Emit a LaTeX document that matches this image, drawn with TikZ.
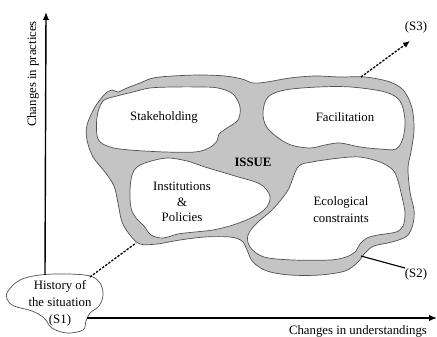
\documentclass[tikz,border=0pt]{standalone}
\usepackage{fontspec}
\setmainfont{Liberation Serif}
\usetikzlibrary{arrows.meta}
\definecolor{blobgray}{RGB}{196,196,196}
\definecolor{edgegray}{RGB}{80,80,80}
\begin{document}
\begin{tikzpicture}[x=1pt,y=-1pt,
  lbl/.style={font=\fontsize{12.8}{16}\selectfont, align=center, inner sep=0pt},
  blob/.style={fill=blobgray, draw=edgegray, line width=0.7pt},
  hole/.style={fill=white, draw=edgegray, line width=0.7pt},
  axis/.style={line width=1.4pt, -{Latex[length=8pt,width=6.5pt]}},
  dotline/.style={line width=1.3pt, dash pattern=on 2.4pt off 1.4pt},
  s2line/.style={line width=1.1pt}]
\useasboundingbox (0,0) rectangle (437,337);
% outer gray blob
\path[blob] plot[smooth cycle, tension=0.55] coordinates {
 (87,125) (95,107) (105,94) (112,90) (118,92) (127,88) (140,83) (153,78) (173,76) (200,75)
 (225,76) (242,79) (253,83) (267,82) (290,78) (315,76) (340,77) (365,77) (390,82) (404,91)
 (412,108) (414,130) (411,152) (408,168) (410,192) (414,210) (413,224) (407,236) (392,242)
 (374,246) (365,253) (358,262) (345,271) (320,275) (290,275) (267,271) (253,262) (247,250)
 (242,241) (230,237) (205,237) (180,240) (157,244) (140,244) (130,235) (122,222) (118,203)
 (114,186) (105,172) (93,157) (87,140)};
% Stakeholding
\path[hole] plot[smooth cycle, tension=0.55] coordinates {
 (103,101) (117,96) (133,92) (150,88) (173,87) (200,87) (218,88) (233,94) (240,107) (238,120)
 (227,128) (219,134) (217,141) (209,148) (195,152) (165,152) (130,150) (110,147) (98,139) (97,117)};
% Facilitation
\path[hole] plot[smooth cycle, tension=0.55] coordinates {
 (268,97) (285,90) (318,87) (351,87) (385,92) (400,101) (405,120) (403,138) (396,149)
 (380,149) (360,147) (340,143) (325,145) (310,148) (291,145) (277,137) (266,126) (263,112)};
% Institutions & Policies
\path[hole] plot[smooth cycle, tension=0.55] coordinates {
 (137,167) (148,162) (167,158) (187,161) (205,167) (235,176) (260,184) (270,196) (266,208)
 (253,217) (233,225) (213,230) (195,232) (178,234) (163,238) (151,235) (144,226) (136,218)
 (131,208) (130,190) (132,175)};
% Ecological constraints
\path[hole] plot[smooth cycle, tension=0.55] coordinates {
 (298,167) (312,162) (340,158) (360,157) (380,162) (393,170) (398,181) (402,197) (405,213)
 (403,226) (396,232) (378,235) (367,238) (360,244) (355,252) (346,257) (330,260) (293,260)
 (264,257) (250,247) (248,235) (257,223) (273,209) (288,190)};
% History bubble
\path[fill=white, draw=edgegray, line width=0.7pt] plot[smooth cycle, tension=0.6] coordinates {
 (8,291) (20,280) (40,275) (67,274) (90,276) (100,283) (103,295) (99,306) (90,313) (86,321)
 (83,330) (67,333) (52,328) (44,318) (32,311) (14,306) (7,299)};
% connector coordinates
\coordinate (ytop) at (46,12);
\coordinate (ybot) at (45,275);
\coordinate (xleft) at (87,318);
\coordinate (xtip) at (437,318);
\coordinate (s1out) at (90,277);
\coordinate (instout) at (136,243);
\coordinate (blobtop) at (361,77);
\coordinate (s3tip) at (410,41);
\coordinate (blobbot) at (361,256);
\coordinate (s2end) at (405,268);
\draw[axis] (ybot) -- (ytop);
\draw[axis] (xleft) -- (xtip);
\draw[dotline] (s1out) -- (instout);
\draw[dotline, -{Latex[length=7pt,width=6pt]}] (blobtop) -- (s3tip);
\draw[s2line] (blobbot) -- (s2end);
% labels
\node[lbl, rotate=90] (ylab) at (33,74) {Changes in practices};
\node[lbl] (xlab) at (358,331) {Changes in understandings};
\node[lbl] (stake) at (164,117) {Stakeholding};
\node[lbl] (facil) at (345,117) {Facilitation};
\node[lbl, font=\fontsize{12.8}{16}\selectfont\bfseries] (issue) at (253,162) {ISSUE};
\node[lbl, font=\fontsize{12.8}{15.5}\selectfont] (inst) at (182,202) {Institutions\\\&\\Policies};
\node[lbl, font=\fontsize{12.8}{17}\selectfont] (eco) at (341,210) {Ecological\\constraints};
\node[lbl, font=\fontsize{12.8}{17}\selectfont] (hist) at (60,303) {History of\\the situation\\(S1)};
\node[lbl] (s2) at (416,274) {(S2)};
\node[lbl] (s3) at (416,27) {(S3)};
\end{tikzpicture}
\end{document}
